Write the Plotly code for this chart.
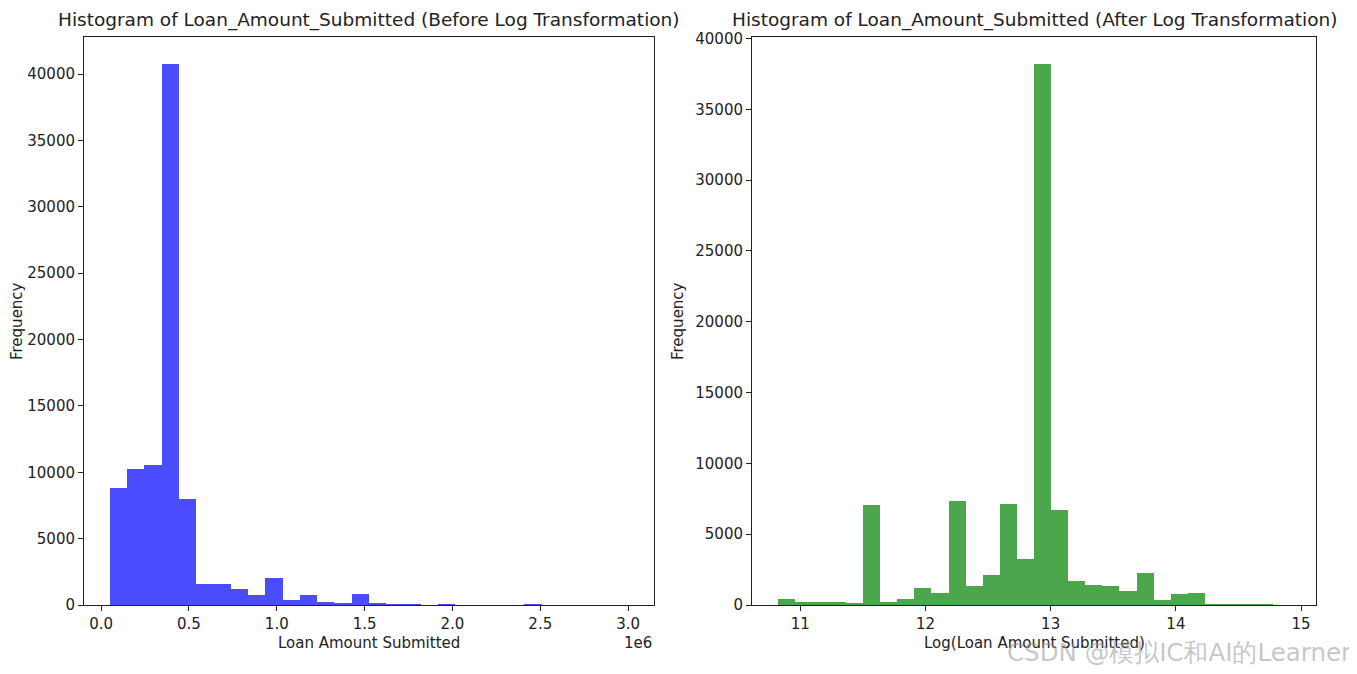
import numpy as np
import plotly.graph_objects as go

# ---------------- data ----------------
loan_min = 50000.0
loan_max = 3000000.0
n_bins = 30

counts_before = [8850, 10280, 10580, 40750, 7950, 1580, 1580, 1230, 750, 2030,
                 400, 750, 200, 120, 830, 120, 90, 80, 6, 80,
                 6, 4, 4, 5, 70, 3, 2, 2, 2, 4]

counts_after = [400, 190, 185, 180, 140, 7040, 235, 400, 1200, 870,
                7350, 1340, 2140, 7110, 3260, 38200, 6710, 1710, 1410, 1310,
                1010, 2280, 375, 750, 845, 45, 40, 40, 38, 3]

before_tickvals = [0, 500000, 1000000, 1500000, 2000000, 2500000, 3000000]
before_ticktext = ["0.0", "0.5", "1.0", "1.5", "2.0", "2.5", "3.0"]
after_tickvals = [11, 12, 13, 14, 15]
y_before_ticks = [0, 5000, 10000, 15000, 20000, 25000, 30000, 35000, 40000]
y_after_ticks = [0, 5000, 10000, 15000, 20000, 25000, 30000, 35000, 40000]

title_before = "Histogram of Loan_Amount_Submitted (Before Log Transformation)"
title_after = "Histogram of Loan_Amount_Submitted (After Log Transformation)"

# ---------------- bins (histogram edges) ----------------
edges_b = np.linspace(loan_min, loan_max, n_bins + 1)
edges_a = np.linspace(np.log(loan_min), np.log(loan_max), n_bins + 1)
cent_b = (edges_b[:-1] + edges_b[1:]) / 2
cent_a = (edges_a[:-1] + edges_a[1:]) / 2
w_b = edges_b[1] - edges_b[0]
w_a = edges_a[1] - edges_a[0]

def lims(lo, hi):
    m = 0.05 * (hi - lo)
    return [lo - m, hi + m]

OFF = 8  # page body margin
W, H = 1357 - OFF, 674 - OFF
FONT = "DejaVu Sans"
# screen-pixel frame positions
L, R, T, B = 84, 1316, 37, 605
PW, PH = R - L, B - T

fig = go.Figure()
fig.add_trace(go.Bar(x=cent_b, y=counts_before, width=w_b,
                     marker=dict(color="rgba(0,0,255,0.7)", line=dict(width=0)),
                     xaxis="x", yaxis="y", showlegend=False))
fig.add_trace(go.Bar(x=cent_a, y=counts_after, width=w_a,
                     marker=dict(color="rgba(0,128,0,0.7)", line=dict(width=0)),
                     xaxis="x2", yaxis="y2", showlegend=False))

ax_common = dict(showline=True, linecolor="#222", linewidth=1, mirror=True,
                 ticks="outside", ticklen=5, tickcolor="#222", tickwidth=1,
                 showgrid=False, zeroline=False, automargin=False,
                 tickfont=dict(family=FONT, size=15, color="#222"))

x1d = [0, (654 - L) / PW]
x2d = [(752 - L) / PW, 1]

fig.update_layout(
    width=W, height=H,
    margin=dict(l=L - OFF, r=(W + OFF) - R, t=T - OFF, b=(H + OFF) - B, pad=0),
    paper_bgcolor="white", plot_bgcolor="white",
    bargap=0,
    font=dict(family=FONT, color="#222"),
    xaxis=dict(domain=x1d, range=lims(loan_min, loan_max),
               tickvals=before_tickvals, ticktext=before_ticktext, anchor="y", **ax_common),
    yaxis=dict(domain=[0, 1], range=[0, max(counts_before) * 1.05],
               tickvals=y_before_ticks, tickformat="d", anchor="x", **ax_common),
    xaxis2=dict(domain=x2d, range=lims(np.log(loan_min), np.log(loan_max)),
                tickvals=after_tickvals, tickformat="d", anchor="y2", **ax_common),
    yaxis2=dict(domain=[0, 1], range=[0, max(counts_after) * 1.05],
                tickvals=y_after_ticks, tickformat="d", anchor="x2", **ax_common),
)

ann = []
def text(x, y, s, size=15, angle=0, xanchor="center", color="#222"):
    ann.append(dict(x=(x - L) / PW, y=(B - y) / PH, xref="paper", yref="paper", text=s,
                    showarrow=False, xanchor=xanchor, yanchor="middle",
                    textangle=angle, font=dict(family=FONT, size=size, color=color)))

text((84 + 654) / 2, 20, title_before, size=18.5)
text((752 + 1316) / 2, 20, title_after, size=18.5)
text((84 + 654) / 2, 643, "Loan Amount Submitted")
text((752 + 1316) / 2, 643, "Log(Loan Amount Submitted)")
text(17, 321, "Frequency", angle=-90)
text(678, 321, "Frequency", angle=-90)
text(654, 643, "1e6", xanchor="right")
text(1354, 652, "CSDN @模拟IC和AI的Learner", size=24.5, xanchor="right",
     color="rgba(150,150,150,0.55)")
fig.update_layout(annotations=ann)

fig.write_html("out.html")
